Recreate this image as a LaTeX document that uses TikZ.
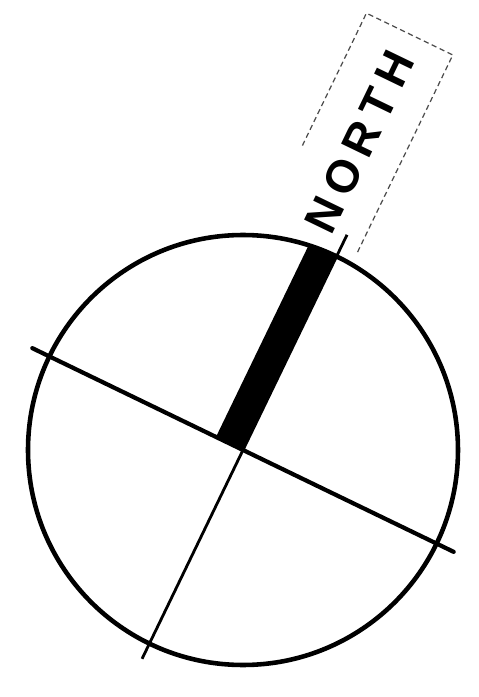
\documentclass[tikz,border=0pt]{standalone}
\usepackage{fontspec}
\usepackage{tikz}
\usetikzlibrary{calc}
\newfontfamily\northfont[LetterSpace=18]{Liberation Sans}

\begin{document}
\begin{tikzpicture}[x=0.02cm, y=0.02cm]
  \useasboundingbox (-243,-247) rectangle (236,450);
  % ---------- compass ring, turned so that north points up-right ----------
  \def\R{215}
  \def\ang{-25.8}
  \coordinate (ctr) at (0,0);

  \draw[line width=2.6pt] (ctr) circle (\R);

  \begin{scope}[rotate=\ang]
    % north bar: west of the meridian, cut off at the ring
    \begin{scope}
      \clip (ctr) circle (\R);
      \fill (-30,0) rectangle (0,\R);
    \end{scope}

    % meridian and east-west line
    \draw[line width=1.6pt] (0,-232) -- (0,239);
    \draw[line width=2.4pt, line cap=round] (-234,0) -- (234,0);

    % label and the edges of the pasted strip round it
    \node[rotate=90+\ang, font={\northfont\bfseries\fontsize{26pt}{26pt}\selectfont}] (north) at (-29,328) {NORTH};
    \draw[densely dashed, black!70, line width=0.7pt] (17,228) -- (17,447) -- (-79,447) -- (-79,300);
  \end{scope}
\end{tikzpicture}
\end{document}
